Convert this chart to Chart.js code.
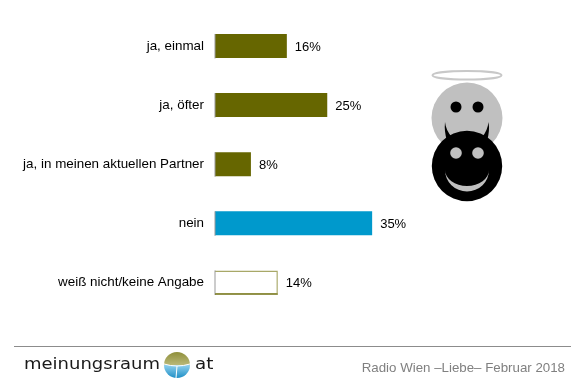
<!DOCTYPE html>
<html><head><meta charset="utf-8">
<style>html,body{margin:0;padding:0;background:#fff}#wrap{width:587px;height:381px;position:relative}</style>
<script src="https://cdn.jsdelivr.net/npm/chart.js@4"></script>
</head><body><div id="wrap"><canvas id="c" width="587" height="381"></canvas></div>
<script>
const categories = ["ja, einmal","ja, öfter","ja, in meinen aktuellen Partner","nein","weiß nicht/keine Angabe"];
const values = [16,25,8,35,14];
const valueLabels = ["16%","25%","8%","35%","14%"];
const fillColors = ["#666600","#666600","#666600","#0099cc","#ffffff"];
const borderColors = ["#666600","#666600","#666600","#0099cc","#a8a868"];
const borderWidths = [0,0,0,0,1.5];
const footerText = "Radio Wien –Liebe– Februar 2018";

const overlay = {
  id:'overlay',
  afterDatasetsDraw(chart){
    const {ctx,scales:{x,y}} = chart;
    const meta = chart.getDatasetMeta(0);
    ctx.save();
    meta.data.forEach((bar,i)=>{
      const x0 = x.getPixelForValue(0);
      ctx.fillStyle='#9a9a9a';
      ctx.fillRect(x0-0.5,bar.y-12,1,24.5);
      if(i===4){ctx.fillStyle='#666600';ctx.fillRect(x0,bar.y+11.2,bar.x-x0,1);}
      ctx.fillStyle='#000';
      ctx.font='13px "Liberation Sans"';
      ctx.textAlign='left';ctx.textBaseline='middle';
      ctx.fillText(valueLabels[i],bar.x+8,bar.y+1);
    });
    // smileys
    const cx=467;
    ctx.strokeStyle='#c8c8c8';ctx.lineWidth=2;
    ctx.beginPath();ctx.ellipse(cx,75.3,34.5,4.3,0,0,Math.PI*2);ctx.stroke();
    ctx.fillStyle='#c0c0c0';
    ctx.beginPath();ctx.arc(cx,118,35.5,0,Math.PI*2);ctx.fill();
    ctx.fillStyle='#000';
    [[456,107],[478,107]].forEach(p=>{ctx.beginPath();ctx.arc(p[0],p[1],5.5,0,Math.PI*2);ctx.fill();});
    // horns
    ctx.beginPath();ctx.moveTo(445,122);ctx.quadraticCurveTo(446,131,452,137);ctx.lineTo(447,141);ctx.quadraticCurveTo(444,131,445,122);ctx.fill();
    ctx.beginPath();ctx.moveTo(488.5,122);ctx.quadraticCurveTo(487.5,131,482,137);ctx.lineTo(487,141);ctx.quadraticCurveTo(490,131,488.5,122);ctx.fill();
    ctx.beginPath();ctx.arc(cx,166,35.2,0,Math.PI*2);ctx.fill();
    ctx.fillStyle='#c0c0c0';
    [[456,153],[478,153]].forEach(p=>{ctx.beginPath();ctx.arc(p[0],p[1],5.8,0,Math.PI*2);ctx.fill();});
    ctx.beginPath();
    ctx.ellipse(cx,170,22,21.5,0,Math.PI,0,true);
    ctx.ellipse(cx,170,22,16,0,0,Math.PI,false);
    ctx.closePath();ctx.fill();
    // footer rule
    ctx.fillStyle='#8c8c8c';ctx.fillRect(14,346,557,1);
    // logo
    ctx.fillStyle='#1a1a1a';ctx.textAlign='left';ctx.textBaseline='alphabetic';
    ctx.font='15px "DejaVu Sans"';
    ctx.save();ctx.translate(24,369);ctx.scale(1.2,1);ctx.fillText("meinungsraum",0,0);ctx.restore();
    ctx.save();ctx.translate(195,369);ctx.scale(1.22,1);ctx.fillText("at",0,0);ctx.restore();
    const g=ctx.createLinearGradient(0,352,0,365);g.addColorStop(0,'#8f8f3a');g.addColorStop(1,'#b9b878');
    ctx.fillStyle=g;ctx.beginPath();ctx.arc(177,365,13,Math.PI,0);ctx.fill();
    const b=ctx.createLinearGradient(0,365,0,378);b.addColorStop(0,'#8fd0ee');b.addColorStop(1,'#1f8fc6');
    ctx.fillStyle=b;ctx.beginPath();ctx.arc(177,365,13,0,Math.PI);ctx.fill();
    ctx.strokeStyle='#fff';ctx.lineWidth=1;ctx.beginPath();ctx.moveTo(164,364);ctx.quadraticCurveTo(177,368,190,364);ctx.stroke();
    ctx.beginPath();ctx.moveTo(177,366);ctx.lineTo(176,378);ctx.stroke();
    // footer text
    ctx.fillStyle='#808080';ctx.font='13.3px "Liberation Sans"';ctx.textAlign='right';
    ctx.fillText(footerText,565,372);
    ctx.restore();
  }
};

new Chart(document.getElementById('c'),{
  type:'bar',
  data:{labels:categories,datasets:[{data:values,backgroundColor:fillColors,borderColor:borderColors,borderWidth:borderWidths,barPercentage:0.405,categoryPercentage:1}]},
  options:{
    indexAxis:'y',responsive:false,animation:false,
    layout:{padding:{top:16.4,bottom:69,left:0,right:0}},
    plugins:{legend:{display:false},tooltip:{enabled:false}},
    scales:{
      x:{display:false,min:0,max:82.85},
      y:{grid:{display:false,drawTicks:false},border:{display:false},
         afterFit(s){s.width=215;s.paddingTop=0;s.paddingBottom=0;},
         ticks:{color:'#000',padding:11,font:{family:'"Liberation Sans"',size:13.4}}}
    }
  },
  plugins:[overlay]
});
</script></body></html>
